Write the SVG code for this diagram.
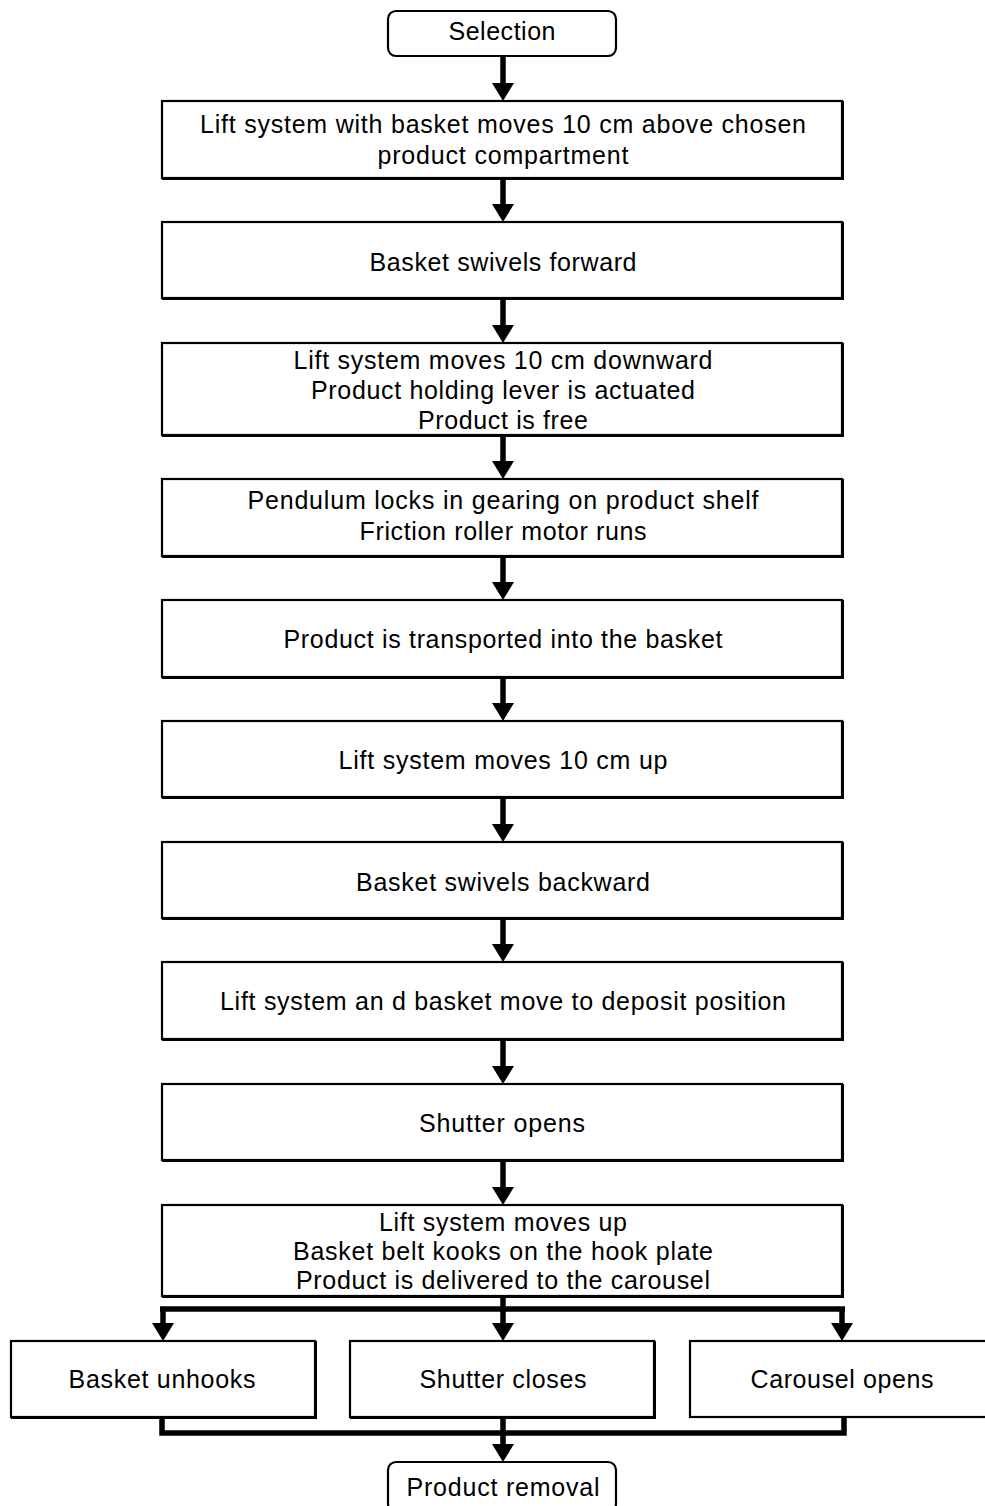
<svg xmlns="http://www.w3.org/2000/svg" width="985" height="1506" viewBox="0 0 985 1506">
  <defs>
    <marker id="head" viewBox="0 0 18 22" refX="8" refY="11" markerWidth="18" markerHeight="22" markerUnits="userSpaceOnUse" orient="auto">
      <path d="M0,0 L18,11 L0,22 z" fill="#000"/>
    </marker>
  </defs>
  <style>
    .box { fill: #fff; stroke: #000; stroke-width: 2.2; }
    .edge { fill: none; stroke: #000; stroke-width: 2; }
    .lbl { font-family: "Liberation Sans", Arial, sans-serif; font-size: 25px; fill: #000; text-anchor: middle; }
    .wire { fill: none; stroke: #000; stroke-width: 5.5; }
    .arrow { fill: none; stroke: #000; stroke-width: 5.5; marker-end: url(#head); }
  </style>
  <rect width="985" height="1506" fill="#fff"/>

  <g id="connectors">
    <path class="arrow" d="M503,56 V91"/>
    <path class="arrow" d="M503,178 V212"/>
    <path class="arrow" d="M503,298 V333"/>
    <path class="arrow" d="M503,435 V469"/>
    <path class="arrow" d="M503,556 V590"/>
    <path class="arrow" d="M503,677 V711"/>
    <path class="arrow" d="M503,797 V832"/>
    <path class="arrow" d="M503,918 V952"/>
    <path class="arrow" d="M503,1039 V1074"/>
    <path class="arrow" d="M503,1160 V1195"/>
    <!-- fan-out to the three parallel steps -->
    <path class="wire" d="M160,1309 H845"/>
    <path class="arrow" d="M503,1296 V1331"/>
    <path class="arrow" d="M163,1307 V1331"/>
    <path class="arrow" d="M842,1307 V1331"/>
    <!-- join back into final step -->
    <path class="wire" d="M162,1417 V1433 H844 V1417"/>
    <path class="arrow" d="M503,1417 V1452"/>
  </g>

  <g id="n-selection">
    <rect class="box" x="388" y="11" width="228" height="45" rx="8"/>
    <text class="lbl" x="502" y="40" textLength="107" lengthAdjust="spacing">Selection</text>
  </g>

  <g id="n-lift-above">
    <rect class="box" x="162" y="101" width="680" height="77"/>
    <path class="edge" d="M843,101 V179 H162"/>
    <text class="lbl" x="503" y="133" textLength="606" lengthAdjust="spacing">Lift system with basket moves 10 cm above chosen</text>
    <text class="lbl" x="503" y="164" textLength="251" lengthAdjust="spacing">product compartment</text>
  </g>

  <g id="n-swivel-fwd">
    <rect class="box" x="162" y="222" width="680" height="76"/>
    <path class="edge" d="M843,222 V299 H162"/>
    <text class="lbl" x="503" y="271" textLength="267" lengthAdjust="spacing">Basket swivels forward</text>
  </g>

  <g id="n-lift-down">
    <rect class="box" x="162" y="343" width="680" height="92"/>
    <path class="edge" d="M843,343 V436 H162"/>
    <text class="lbl" x="503" y="369" textLength="419" lengthAdjust="spacing">Lift system moves 10 cm downward</text>
    <text class="lbl" x="503" y="399" textLength="384" lengthAdjust="spacing">Product holding lever is actuated</text>
    <text class="lbl" x="503" y="429" textLength="170" lengthAdjust="spacing">Product is free</text>
  </g>

  <g id="n-pendulum">
    <rect class="box" x="162" y="479" width="680" height="77"/>
    <path class="edge" d="M843,479 V557 H162"/>
    <text class="lbl" x="503" y="509" textLength="511" lengthAdjust="spacing">Pendulum locks in gearing on product shelf</text>
    <text class="lbl" x="503" y="540" textLength="287" lengthAdjust="spacing">Friction roller motor runs</text>
  </g>

  <g id="n-transport">
    <rect class="box" x="162" y="600" width="680" height="77"/>
    <path class="edge" d="M843,600 V678 H162"/>
    <text class="lbl" x="503" y="648" textLength="439" lengthAdjust="spacing">Product is transported into the basket</text>
  </g>

  <g id="n-lift-up">
    <rect class="box" x="162" y="721" width="680" height="76"/>
    <path class="edge" d="M843,721 V798 H162"/>
    <text class="lbl" x="503" y="769" textLength="329" lengthAdjust="spacing">Lift system moves 10 cm up</text>
  </g>

  <g id="n-swivel-back">
    <rect class="box" x="162" y="842" width="680" height="76"/>
    <path class="edge" d="M843,842 V919 H162"/>
    <text class="lbl" x="503" y="891" textLength="294" lengthAdjust="spacing">Basket swivels backward</text>
  </g>

  <g id="n-deposit">
    <rect class="box" x="162" y="962" width="680" height="77"/>
    <path class="edge" d="M843,962 V1040 H162"/>
    <text class="lbl" x="503" y="1010" textLength="566" lengthAdjust="spacing">Lift system an d basket move to deposit position</text>
  </g>

  <g id="n-shutter-opens">
    <rect class="box" x="162" y="1084" width="680" height="76"/>
    <path class="edge" d="M843,1084 V1161 H162"/>
    <text class="lbl" x="502" y="1132" textLength="166" lengthAdjust="spacing">Shutter opens</text>
  </g>

  <g id="n-deliver">
    <rect class="box" x="162" y="1205" width="680" height="91"/>
    <path class="edge" d="M843,1205 V1297 H162"/>
    <text class="lbl" x="503" y="1231" textLength="248" lengthAdjust="spacing">Lift system moves up</text>
    <text class="lbl" x="503" y="1260" textLength="420" lengthAdjust="spacing">Basket belt kooks on the hook plate</text>
    <text class="lbl" x="503" y="1289" textLength="414" lengthAdjust="spacing">Product is delivered to the carousel</text>
  </g>

  <g id="n-unhooks">
    <rect class="box" x="11" y="1341" width="304" height="76"/>
    <path class="edge" d="M316,1341 V1418 H11"/>
    <text class="lbl" x="162" y="1388" textLength="187" lengthAdjust="spacing">Basket unhooks</text>
  </g>

  <g id="n-shutter-closes">
    <rect class="box" x="350" y="1341" width="304" height="76"/>
    <path class="edge" d="M655,1341 V1418 H350"/>
    <text class="lbl" x="503" y="1388" textLength="167" lengthAdjust="spacing">Shutter closes</text>
  </g>

  <g id="n-carousel">
    <rect class="box" x="690" y="1341" width="310" height="76"/>
    <text class="lbl" x="842" y="1388" textLength="183" lengthAdjust="spacing">Carousel opens</text>
  </g>

  <g id="n-removal">
    <rect class="box" x="388" y="1462" width="228" height="50" rx="8"/>
    <text class="lbl" x="503" y="1496" textLength="193" lengthAdjust="spacing">Product removal</text>
  </g>
</svg>
